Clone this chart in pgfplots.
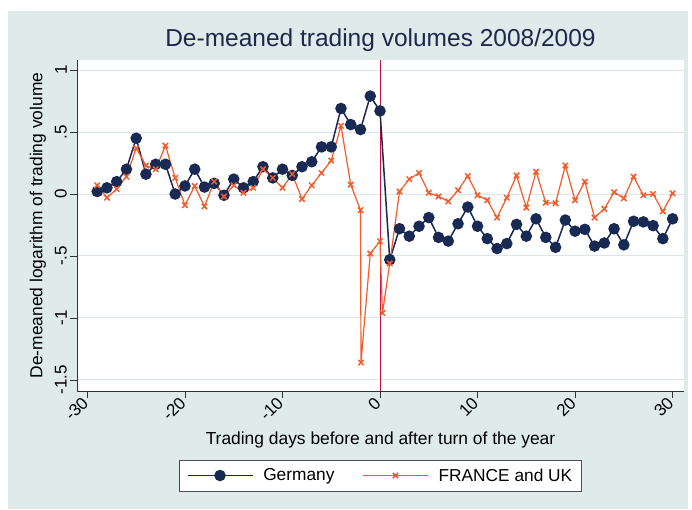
\documentclass[border=0pt]{standalone}
\usepackage{pgfplots}
\pgfplotsset{compat=1.18}
\usepackage{fontspec}
\setmainfont{Liberation Sans}
\definecolor{bgc}{RGB}{223,234,235}
\definecolor{gridc}{RGB}{218,230,234}
\definecolor{navyc}{RGB}{24,42,84}
\definecolor{orangec}{RGB}{242,92,42}
\definecolor{redc}{RGB}{200,20,60}
\definecolor{titlec}{RGB}{30,40,75}
\begin{document}
\begin{tikzpicture}
\fill[white] (0pt,0pt) rectangle (692pt,509pt);
\fill[bgc] (8pt,0pt) rectangle (688pt,498pt);
\path[use as bounding box] (0pt,0pt) rectangle (692pt,509pt);
\begin{axis}[
  at={(77pt,118pt)}, anchor=south west,
  scale only axis, width=607pt, height=331pt,
  xmin=-31.07, xmax=31.17, ymin=-1.589, ymax=1.081,
  axis x line*=bottom, axis y line*=left,
  axis line style={black!80, line width=0.8pt},
  axis background/.style={fill=white},
  tick align=outside, major tick length=7pt,
  tick style={black!80, line width=0.8pt},
  xtick={-30,-20,-10,0,10,20,30},
  xticklabels={-30,-20,-10,0,10,20,30},
  ytick={-1.5,-1,-0.5,0,0.5,1},
  yticklabels={-1.5,-1,-.5,0,.5,1},
  ymajorgrids, major grid style={gridc, line width=1pt},
  ticklabel style={font=\fontsize{17}{20}\selectfont},
  xticklabel style={rotate=45, anchor=east, inner sep=3pt},
  yticklabel style={rotate=90, anchor=south, inner sep=3pt},
  label style={font=\fontsize{17.4}{20}\selectfont},
  xlabel={Trading days before and after turn of the year},
  xlabel style={at={(axis description cs:0.5,-0.148)}, anchor=center},
  ylabel={De-meaned logarithm of trading volume},
  ylabel style={at={(axis description cs:-0.0643,0.5)}, anchor=center},
  title={De-meaned trading volumes 2008/2009},
  title style={at={(axis description cs:0.5,1.024)}, anchor=base, yshift=0pt, font=\fontsize{24.5}{28}\selectfont, text=titlec},
  legend columns=2,
  legend style={at={(axis description cs:0.5,-0.2553)}, anchor=center,
    draw=black!70, line width=0.8pt, fill=white, font=\fontsize{17.3}{20}\selectfont,
    inner xsep=7pt, inner ysep=6.5pt,
    /tikz/every odd column/.append style={column sep=8pt},
    /tikz/every even column/.append style={column sep=26pt}},
  legend cell align=left,
  legend image code/.code={\draw[mark repeat=2,mark phase=2] plot coordinates {(0pt,0pt) (32.5pt,0pt) (65pt,0pt)};},
]
\addplot[redc, line width=1pt, forget plot] coordinates {(0,-1.589) (0,1.081)};
\addplot[navyc, line width=1.5pt, mark=*, mark size=5pt, mark options={fill=navyc, draw=navyc}] coordinates {
(-29,0.02) (-28,0.05) (-27,0.10) (-26,0.20) (-25,0.45) (-24,0.16) (-23,0.24) (-22,0.24) (-21,0.00) (-20,0.065)
(-19,0.20) (-18,0.056) (-17,0.086) (-16,-0.01) (-15,0.12) (-14,0.05) (-13,0.10) (-12,0.22) (-11,0.13) (-10,0.20)
(-9,0.15) (-8,0.22) (-7,0.26) (-6,0.38) (-5,0.38) (-4,0.69) (-3,0.56) (-2,0.52) (-1,0.79) (0,0.67)
(1,-0.53) (2,-0.28) (3,-0.34) (4,-0.26) (5,-0.19) (6,-0.35) (7,-0.38) (8,-0.24) (9,-0.105) (10,-0.26)
(11,-0.36) (12,-0.44) (13,-0.40) (14,-0.245) (15,-0.34) (16,-0.20) (17,-0.35) (18,-0.43) (19,-0.21) (20,-0.30)
(21,-0.285) (22,-0.42) (23,-0.395) (24,-0.28) (25,-0.41) (26,-0.22) (27,-0.225) (28,-0.255) (29,-0.36) (30,-0.20)
};
\addlegendentry{Germany}
\addplot[orangec, line width=1.2pt, mark=x, mark size=3.8pt, mark options={line width=1.5pt}] coordinates {
(-29,0.07) (-28,-0.03) (-27,0.04) (-26,0.14) (-25,0.37) (-24,0.23) (-23,0.20) (-22,0.39) (-21,0.13) (-20,-0.09)
(-19,0.065) (-18,-0.10) (-17,0.10) (-16,-0.02) (-15,0.07) (-14,0.01) (-13,0.05) (-12,0.20) (-11,0.13) (-10,0.05)
(-9,0.16) (-8,-0.04) (-7,0.07) (-6,0.17) (-5,0.27) (-4,0.55) (-3,0.075) (-2,-0.13) (-1.95,-1.36) (-1,-0.48)
(0,-0.38) (0.25,-0.96) (1,-0.56) (2,0.02) (3,0.12) (4,0.17) (5,0.01) (6,-0.02) (7,-0.06) (8,0.03)
(9,0.145) (10,-0.01) (11,-0.05) (12,-0.19) (13,-0.03) (14,0.15) (15,-0.11) (16,0.18) (17,-0.07) (18,-0.075)
(19,0.23) (20,-0.05) (21,0.10) (22,-0.19) (23,-0.12) (24,0.015) (25,-0.035) (26,0.14) (27,-0.01) (28,0.00)
(29,-0.14) (30,0.005)
};
\addlegendentry{FRANCE and UK}
\end{axis}
\end{tikzpicture}
\end{document}
